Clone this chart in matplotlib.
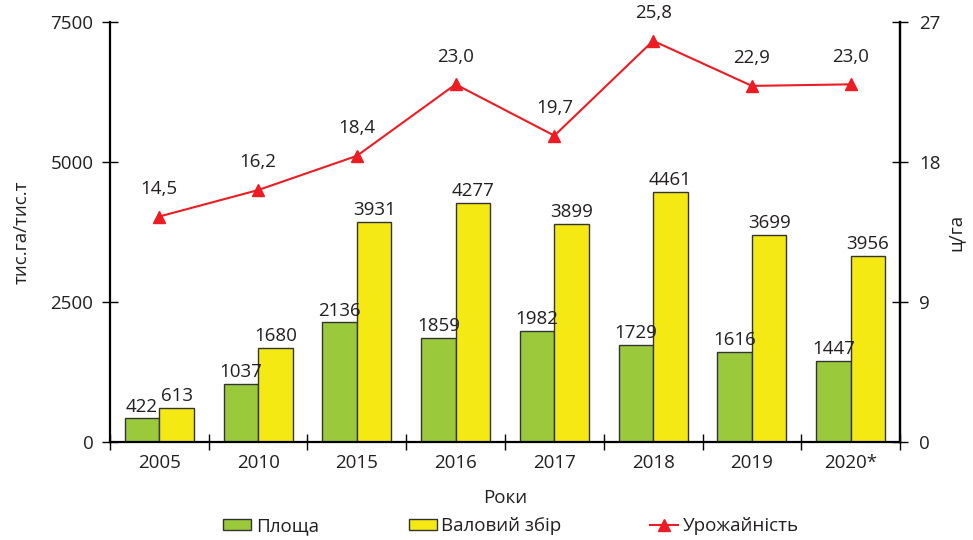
import numpy as np
import matplotlib.pyplot as plt
from matplotlib.ticker import FixedLocator

years = ["2005", "2010", "2015", "2016", "2017", "2018", "2019", "2020*"]
area = [422, 1037, 2136, 1859, 1982, 1729, 1616, 1447]
gross = [613, 1680, 3931, 4277, 3899, 4461, 3699, 3320]
gross_labels = ["613", "1680", "3931", "4277", "3899", "4461", "3699", "3956"]
yield_ = [14.5, 16.2, 18.4, 23.0, 19.7, 25.8, 22.9, 23.0]
yield_labels = ["14,5", "16,2", "18,4", "23,0", "19,7", "25,8", "22,9", "23,0"]

plt.rcParams['font.family'] = ['Open Sans', 'DejaVu Sans']
fs = 13.5
txt = "#231f20"

green = "#9aca3c"
yellow = "#f5e914"
red = "#ed1c24"

fig = plt.figure(figsize=(9.73, 5.4), dpi=100)
ax = fig.add_axes([0.113, 0.1815, 0.812, 0.7775])

x = np.arange(len(years))
w = 0.35
b1 = ax.bar(x - w / 2, area, w, color=green, edgecolor="#333333", linewidth=1, zorder=2)
b2 = ax.bar(x + w / 2, gross, w, color=yellow, edgecolor="#333333", linewidth=1, zorder=2)

for rect, v in zip(b1, area):
    ax.text(rect.get_x() + rect.get_width() / 2, v + 50, str(v),
            ha="center", va="bottom", fontsize=fs, color=txt, zorder=5)
for rect, v, s in zip(b2, gross, gross_labels):
    ax.text(rect.get_x() + rect.get_width() / 2, v + 50, s,
            ha="center", va="bottom", fontsize=fs, color=txt, zorder=5)

ax.set_xlim(-0.5, len(years) - 0.5)
ax.set_ylim(0, 7500)
ax.set_yticks([0, 2500, 5000, 7500])
ax.set_xticks(x)
ax.set_xticklabels(years)
ax.xaxis.set_minor_locator(FixedLocator(np.arange(-0.5, len(years), 1.0)))
ax.tick_params(axis="x", which="major", length=0, pad=9, labelsize=fs, labelcolor=txt)
ax.tick_params(axis="x", which="minor", length=12, direction="inout", width=1)
ax.tick_params(axis="y", length=12, direction="inout", width=1, labelsize=fs,
               pad=6, labelcolor=txt)
ax.set_xlabel("Роки", fontsize=fs, labelpad=12, color=txt)
ax.set_ylabel("тис.га/тис.т", fontsize=fs, labelpad=14, color=txt)

for s in ["left", "bottom", "right"]:
    ax.spines[s].set_linewidth(1.6)
ax.spines["top"].set_visible(False)

ax2 = ax.twinx()
ax2.plot(x, yield_, color=red, marker="^", markersize=9, linewidth=1.5, zorder=3)
for xi, v, s in zip(x, yield_, yield_labels):
    ax2.text(xi, v + 1.2, s, ha="center", va="bottom", fontsize=fs, color=txt)
ax2.set_ylim(0, 27)
ax2.set_yticks([0, 9, 18, 27])
ax2.tick_params(axis="y", length=12, direction="inout", width=1, labelsize=fs,
                pad=8, labelcolor=txt)
ax2.set_ylabel("ц/га", fontsize=fs, labelpad=4, color=txt)
ax2.spines["right"].set_linewidth(1.6)
ax2.spines["top"].set_visible(False)
ax2.spines["left"].set_visible(False)
ax2.spines["bottom"].set_visible(False)

line_handle = plt.Line2D([], [], color=red, marker="^", markersize=9, linewidth=1.5)
entries = [(b1, "Площа", 0.229), (b2, "Валовий збір", 0.420), (line_handle, "Урожайність", 0.668)]
for h, lab, xpos in entries:
    leg = fig.legend([h], [lab], loc="center left", bbox_to_anchor=(xpos, 0.026),
                     frameon=False, fontsize=fs, handlelength=1.5, handleheight=0.55,
                     handletextpad=0.25, borderpad=0, borderaxespad=0)
    for t in leg.get_texts():
        t.set_color(txt)

fig.savefig("out.png", dpi=100)
